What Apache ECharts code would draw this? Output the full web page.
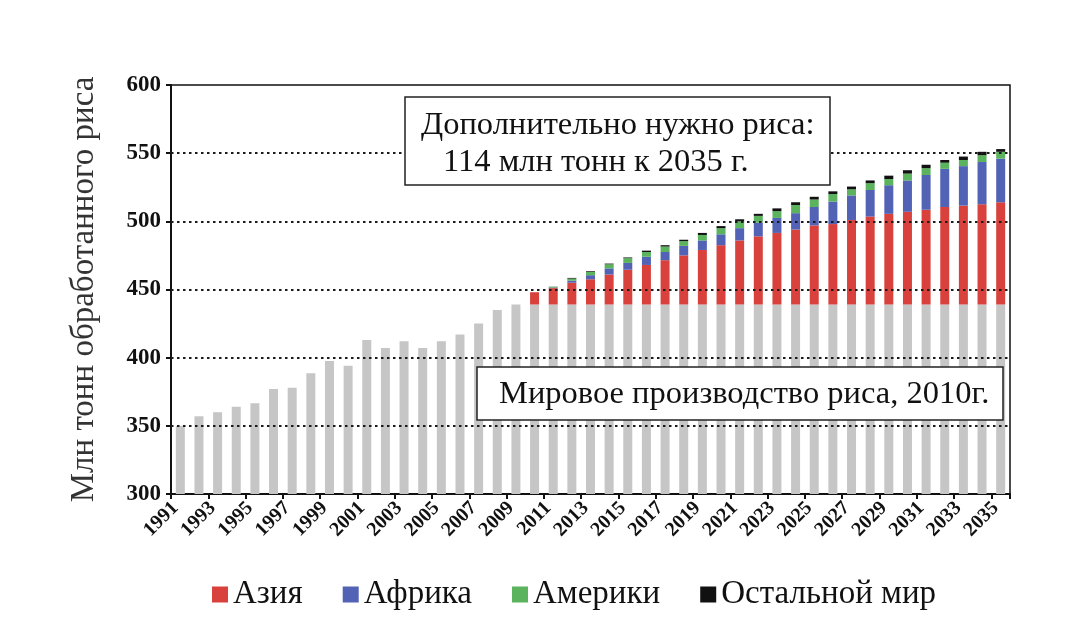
<!DOCTYPE html>
<html>
<head>
<meta charset="utf-8">
<script src="https://cdn.jsdelivr.net/npm/echarts@6/dist/echarts.min.js"></script>
<style>html,body{margin:0;padding:0;background:#fff;}#c{width:1080px;height:636px;}</style>
</head>
<body>
<div id="c"></div>
<script>
const years = ['1991','1992','1993','1994','1995','1996','1997','1998','1999','2000',
  '2001','2002','2003','2004','2005','2006','2007','2008','2009','2010',
  '2011','2012','2013','2014','2015','2016','2017','2018','2019','2020',
  '2021','2022','2023','2024','2025','2026','2027','2028','2029','2030',
  '2031','2032','2033','2034','2035'];
const baseProduction = [350,357,360,364,366.5,377,378,388.5,397.5,394,
  413,407,412,407,412,417,425,435,439,439,
  439,439,439,439,439,439,439,439,439,439,
  439,439,439,439,439,439,439,439,439,439,
  439,439,439,439,439];
const asia = [0,0,0,0,0,0,0,0,0,0,0,0,0,0,0,0,0,0,0,
  9,12,16,18.5,22,25.5,29,32.5,36,40,43.5,47,50,52.5,55,58,59,62,64.5,66.5,68,69.5,71.5,72.5,73.5,75];
const africa = [0,0,0,0,0,0,0,0,0,0,0,0,0,0,0,0,0,0,0,
  0,0.3,1.5,3,4.5,5,6,6,7,7,8,9,10,11,12,13.5,16.5,18,19.5,21,23,25.5,28,29,31,32];
const americas = [0,0,0,0,0,0,0,0,0,0,0,0,0,0,0,0,0,0,0,
  0,0.5,1.5,2.5,3,3.5,3.5,4,3.5,4,4.5,5,5,5,6,5.5,5.5,4.5,5,4.5,5,5,4.5,4.5,5,5];
const restOfWorld = [0,0,0,0,0,0,0,0,0,0,0,0,0,0,0,0,0,0,0,
  0,0.2,0.5,0.5,0.5,0.5,1,1,1,1.5,1.5,1.5,1.5,2,2,2,2,2,2,2.5,2.5,2.5,2,2.5,2.5,2];
const gridValues = [350,400,450,500,550];
const seriesNames = ['Азия','Африка','Америки','Остальной мир'];
const yAxisTitle = 'Млн тонн обработанного риса';
const note1 = ['Дополнительно нужно риса:', '114 млн тонн к 2035 г.'];
const note2 = 'Мировое производство риса, 2010г.';

const serif = '"Liberation Serif", "DejaVu Serif", serif';
const colors = ['#d9423c', '#5263b6', '#5bb35d', '#111111'];
const chart = echarts.init(document.getElementById('c'));
const barW = 9;
const stackData = [asia, africa, americas, restOfWorld];

const series = [{
  name: 'base', type: 'bar', stack: 'total', data: baseProduction, barWidth: barW,
  itemStyle: { color: '#c6c6c6' }, silent: true
}];
stackData.forEach((d, i) => {
  series.push({ name: seriesNames[i], type: 'bar', stack: 'total', data: d, barWidth: barW,
    itemStyle: { color: colors[i] } });
});
series[series.length - 1].markLine = {
  silent: true, symbol: 'none', label: { show: false }, z: 5,
  lineStyle: { color: '#1a1a1a', type: [2.5, 3.5], width: 2 },
  data: gridValues.map(v => ({ yAxis: v }))
};

chart.setOption({
  animation: false,
  backgroundColor: '#fff',
  grid: { left: 171, right: 70, top: 85, bottom: 142, show: true, borderColor: '#111', borderWidth: 1.5, backgroundColor: 'transparent' },
  legend: {
    data: seriesNames, left: 207, top: 573, icon: 'rect', itemWidth: 16, itemHeight: 16, itemGap: 40,
    textStyle: { fontFamily: serif, fontSize: 33, color: '#111' }
  },
  xAxis: {
    type: 'category', data: years,
    axisLine: { lineStyle: { color: '#111', width: 2 } },
    axisTick: { show: true, length: 5, lineStyle: { color: '#111', width: 2 } },
    axisLabel: { interval: 1, rotate: 45, fontFamily: serif, fontWeight: 'bold', fontSize: 20, color: '#111', margin: 6, padding: [0, 7, 0, 0] }
  },
  yAxis: {
    type: 'value', min: 300, max: 600, interval: 50,
    name: yAxisTitle, nameLocation: 'middle', nameGap: 70, nameRotate: 90,
    nameTextStyle: { fontFamily: serif, fontSize: 33, color: '#333' },
    axisLine: { show: true, lineStyle: { color: '#111', width: 2 } },
    axisTick: { show: true, length: 5, lineStyle: { color: '#111', width: 2 } },
    axisLabel: { fontFamily: serif, fontWeight: 'bold', fontSize: 23, color: '#111', margin: 10 },
    splitLine: { show: false }
  },
  graphic: [
    { type: 'rect', z: 100, shape: { x: 405, y: 97, width: 425, height: 88 },
      style: { fill: '#fff', stroke: '#222', lineWidth: 1.5 } },
    { type: 'text', z: 101, x: 421, y: 125, style: { text: note1[0], font: '32.5px ' + serif, fill: '#111', textVerticalAlign: 'middle' } },
    { type: 'text', z: 101, x: 443, y: 162, style: { text: note1[1], font: '32.5px ' + serif, fill: '#111', textVerticalAlign: 'middle' } },
    { type: 'rect', z: 100, shape: { x: 477, y: 367, width: 526, height: 53 },
      style: { fill: '#fff', stroke: '#222', lineWidth: 1.5 } },
    { type: 'text', z: 101, x: 499, y: 394, style: { text: note2, font: '32.5px ' + serif, fill: '#111', textVerticalAlign: 'middle' } }
  ],
  series: series
});
</script>
</body>
</html>
